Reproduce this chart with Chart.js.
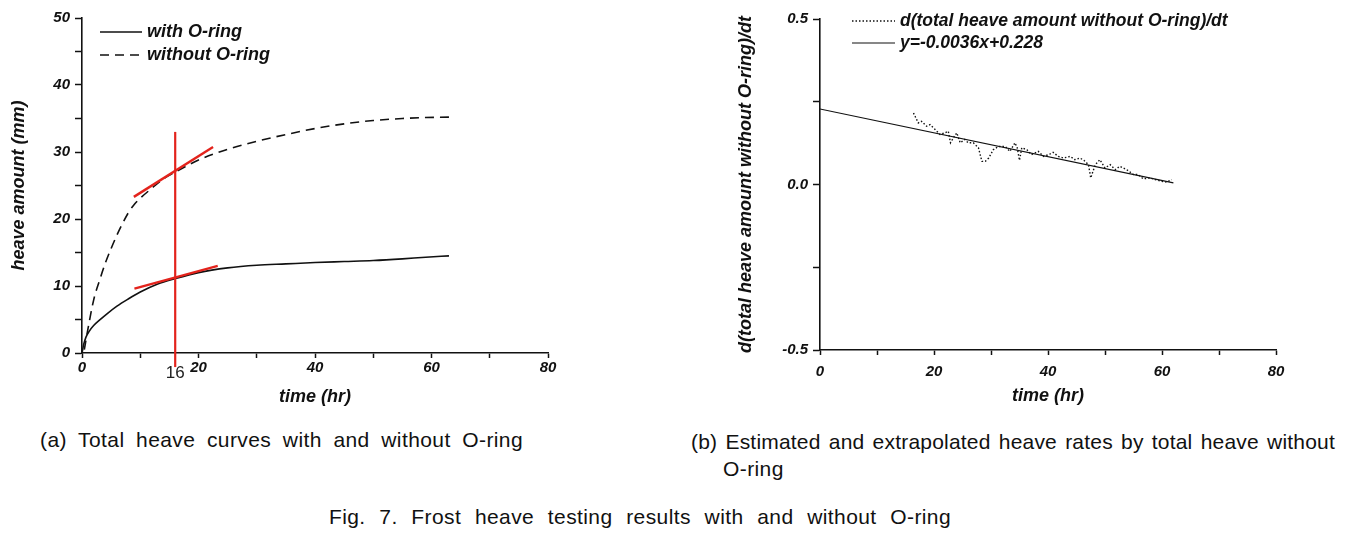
<!DOCTYPE html>
<html>
<head>
<meta charset="utf-8">
<script src="https://cdn.jsdelivr.net/npm/chart.js@4.4.1/dist/chart.umd.min.js"></script>
<style>
  body { margin: 0; background: #fff; width: 1350px; height: 535px; position: relative; overflow: hidden;
         font-family: "Liberation Sans", Arial, sans-serif; }
  .plot { position: absolute; top: 0; }
  #plotA { left: 0; width: 560px; height: 415px; }
  #plotB { left: 690px; width: 610px; height: 415px; }
  .cap { position: absolute; font-size: 21px; line-height: 24px; color: #111; white-space: nowrap;
         letter-spacing: 0.4px; text-align: justify; text-align-last: justify; }
</style>
</head>
<body>
<div class="plot" id="plotA"><canvas id="chartA" width="560" height="415"></canvas></div>
<div class="plot" id="plotB"><canvas id="chartB" width="610" height="415"></canvas></div>

<div class="cap" style="left:40px; top:428px; width:483px;">(a) Total heave curves with and without O-ring</div>
<div class="cap" style="left:691px; top:430px; width:644px; letter-spacing:0.2px;">(b) Estimated and extrapolated heave rates by total heave without</div>
<div class="cap" style="left:723px; top:457px; text-align-last:left;">O-ring</div>
<div class="cap" style="left:329px; top:505px; width:622px;">Fig. 7. Frost heave testing results with and without O-ring</div>

<script>
'use strict'

// (a) total heave curves
const timeWith  = [0, 0.3, 0.7, 1.2, 2, 3, 4.5, 6, 8, 10, 13, 16, 20, 25, 30, 35, 40, 45, 50, 55, 59, 63];
const heaveWith = [0, 1.3, 2.4, 3.2, 4.1, 4.9, 6.0, 7.0, 8.1, 9.1, 10.3, 11.1, 12.0, 12.7, 13.1, 13.3, 13.5, 13.65, 13.8, 14.05, 14.3, 14.5];

const timeWithout  = [0.4, 1, 2, 3, 4, 5, 6, 7, 8, 9, 10, 12, 14, 16, 20, 25, 30, 35, 40, 45, 50, 55, 59, 63];
const heaveWithout = [0.5, 3.5, 7.9, 10.8, 13.4, 15.6, 17.6, 19.4, 21.0, 22.2, 23.1, 24.6, 26.0, 27.0, 28.8, 30.4, 31.6, 32.6, 33.5, 34.2, 34.7, 35.0, 35.15, 35.2];

const tangentTopX = [8.9, 22.5];
const tangentTopY = [23.3, 30.75];
const tangentLowX = [9.0, 23.3];
const tangentLowY = [9.6, 13.0];
const markTime = [16, 16];
const markHeave = [-2.1, 33.0];

// (b) heave rate without O-ring and its linear fit
const rateTime  = [16.4, 17.25, 17.8, 18.7, 19.3, 20.2, 21.05, 21.9, 22.5, 22.9, 23.4, 24.0, 24.6, 25.4, 26.0, 26.9,
                   27.8, 28.4, 29.0, 29.6, 30.4, 31.3, 32.5, 33.3, 34.2, 34.6, 35.0, 35.4, 36.3, 37.1, 38.3, 39.2,
                   40.1, 40.9, 41.8, 42.7, 43.9, 44.7, 45.6, 46.3, 47.1, 47.5, 48.3, 49.1, 50.0, 50.9, 51.8, 52.6,
                   53.8, 55.0, 55.8, 56.7, 57.9, 58.8, 59.9, 60.8, 61.7];
const rateValue = [0.216, 0.186, 0.191, 0.176, 0.181, 0.166, 0.151, 0.156, 0.161, 0.126, 0.141, 0.156, 0.126, 0.136, 0.126, 0.126,
                   0.111, 0.070, 0.070, 0.080, 0.105, 0.115, 0.115, 0.100, 0.126, 0.111, 0.073, 0.111, 0.105, 0.090, 0.100, 0.085,
                   0.090, 0.097, 0.085, 0.080, 0.085, 0.075, 0.080, 0.073, 0.060, 0.020, 0.060, 0.075, 0.050, 0.060, 0.045, 0.055,
                   0.045, 0.030, 0.030, 0.017, 0.020, 0.015, 0.010, 0.007, 0.015];
const fitTime  = [0, 62];
const fitValue = [0.228, 0.005];

const xTicksA = [0, 20, 40, 60, 80];
const yTicksA = [0, 10, 20, 30, 40, 50];

const INK = '#111';
const RED = '#e3231c';
const tickFont  = { family: '"Liberation Sans", Arial', size: 15, style: 'italic', weight: 'bold' };
const titleFont = { family: '"Liberation Sans", Arial', size: 18, style: 'italic', weight: 'bold' };

function pts(xs, ys){
    return xs.map((x, i) => ({ x: x, y: ys[i] }));
}

// legend drawn inside the plot area, with the dataset's own line style
const lineLegend = {
    id: 'lineLegend',
    afterDraw(chart, args, opts){
        if(!opts.items) return;
        const { ctx, chartArea } = chart;
        ctx.save();
        opts.items.forEach((idx, i) => {
            const ds = chart.data.datasets[idx];
            const x0 = chartArea.left + opts.left;
            const y = chartArea.top + opts.top + i * opts.gap;
            ctx.strokeStyle = ds.borderColor;
            ctx.lineWidth = ds.borderWidth;
            ctx.setLineDash(ds.borderDash || []);
            ctx.beginPath();
            ctx.moveTo(x0, y);
            ctx.lineTo(x0 + opts.sample, y);
            ctx.stroke();
            ctx.setLineDash([]);
            ctx.fillStyle = INK;
            ctx.font = opts.font;
            ctx.textBaseline = 'middle';
            ctx.fillText(ds.label, x0 + opts.sample + 5, y);
        });
        ctx.restore();
    }
};
Chart.register(lineLegend);

// "16" under the red marker line
const markLabel = {
    id: 'markLabel',
    afterDraw(chart){
        const { ctx } = chart;
        const x = chart.scales.x.getPixelForValue(markTime[0]);
        ctx.save();
        ctx.fillStyle = '#222';
        ctx.font = '17px "Liberation Sans", Arial';
        ctx.textAlign = 'center';
        ctx.textBaseline = 'middle';
        ctx.fillText(String(markTime[0]), x, chart.chartArea.bottom + 20);
        ctx.restore();
    }
};

function axis(opts){
    return {
        type: 'linear',
        min: opts.min,
        max: opts.max,
        ticks: {
            stepSize: opts.step,
            autoSkip: false,
            maxRotation: 0,
            padding: opts.pad,
            color: INK,
            font: tickFont,
            callback: opts.label
        },
        grid: { drawOnChartArea: false, drawTicks: true, tickLength: opts.tick, tickColor: INK, tickWidth: 1.5 },
        border: { color: INK, width: 1.6 },
        title: { display: true, text: opts.title, color: INK, font: titleFont, padding: opts.titlePad },
        afterFit: opts.fit
    };
}

const chartA = new Chart(document.getElementById('chartA'), {
    type: 'scatter',
    data: {
        datasets: [
            { label: 'tangent', data: pts(tangentTopX, tangentTopY), showLine: true, borderColor: RED, borderWidth: 2.4, pointRadius: 0, order: 0 },
            { label: 'tangent', data: pts(tangentLowX, tangentLowY), showLine: true, borderColor: RED, borderWidth: 2.4, pointRadius: 0, order: 0 },
            { label: 'mark', data: pts(markTime, markHeave), showLine: true, borderColor: RED, borderWidth: 2.2, pointRadius: 0, order: 0, clip: false },
            { label: 'with O-ring', data: pts(timeWith, heaveWith), showLine: true, borderColor: INK, borderWidth: 1.6,
              pointRadius: 0, cubicInterpolationMode: 'monotone', order: 1 },
            { label: 'without O-ring', data: pts(timeWithout, heaveWithout), showLine: true, borderColor: INK, borderWidth: 1.6,
              borderDash: [9, 6], pointRadius: 0, cubicInterpolationMode: 'monotone', order: 1 }
        ]
    },
    options: {
        responsive: false,
        animation: false,
        events: [],
        layout: { padding: { top: 18, right: 12, left: 0, bottom: 0 } },
        plugins: {
            legend: { display: false },
            tooltip: { enabled: false },
            lineLegend: { items: [3, 4], left: 18, top: 14, gap: 23, sample: 42, font: 'italic bold 18px "Liberation Sans", Arial' }
        },
        scales: {
            x: axis({ min: 0, max: 80, step: 10, pad: 1, tick: 5, title: 'time (hr)', titlePad: { top: 0, bottom: 7 },
                      label: v => xTicksA.includes(v) ? v : '', fit: s => { s.height = 62; } }),
            y: axis({ min: 0, max: 50, step: 5, pad: 5, tick: 7, title: 'heave amount (mm)', titlePad: { top: 8, bottom: 0 },
                      label: v => yTicksA.includes(v) ? v : '', fit: s => { s.width = 82; } })
        }
    },
    plugins: [markLabel]
});

const chartB = new Chart(document.getElementById('chartB'), {
    type: 'scatter',
    data: {
        datasets: [
            { label: 'd(total heave amount without O-ring)/dt', data: pts(rateTime, rateValue), showLine: true,
              borderColor: INK, borderWidth: 1.4, borderDash: [1.5, 2], pointRadius: 0 },
            { label: 'y=-0.0036x+0.228', data: pts(fitTime, fitValue), showLine: true,
              borderColor: INK, borderWidth: 1.1, pointRadius: 0 }
        ]
    },
    options: {
        responsive: false,
        animation: false,
        events: [],
        layout: { padding: { top: 19, right: 24, left: 0, bottom: 0 } },
        plugins: {
            legend: { display: false },
            tooltip: { enabled: false },
            lineLegend: { items: [0, 1], left: 32, top: 2, gap: 22, sample: 43, font: 'italic bold 17.5px "Liberation Sans", Arial' }
        },
        scales: {
            x: axis({ min: 0, max: 80, step: 10, pad: 8, tick: 5, title: 'time (hr)', titlePad: { top: 0, bottom: 8 },
                      label: v => v % 20 === 0 ? v : '', fit: s => { s.height = 65; } }),
            y: axis({ min: -0.5, max: 0.5, step: 0.25, pad: 5, tick: 7, title: 'd(total heave amount without O-ring)/dt',
                      titlePad: { top: 45, bottom: 0 },
                      label: v => Math.abs(v * 2 - Math.round(v * 2)) < 1e-9 ? v.toFixed(1) : '', fit: s => { s.width = 130; } })
        }
    }
});
</script>
</body>
</html>
